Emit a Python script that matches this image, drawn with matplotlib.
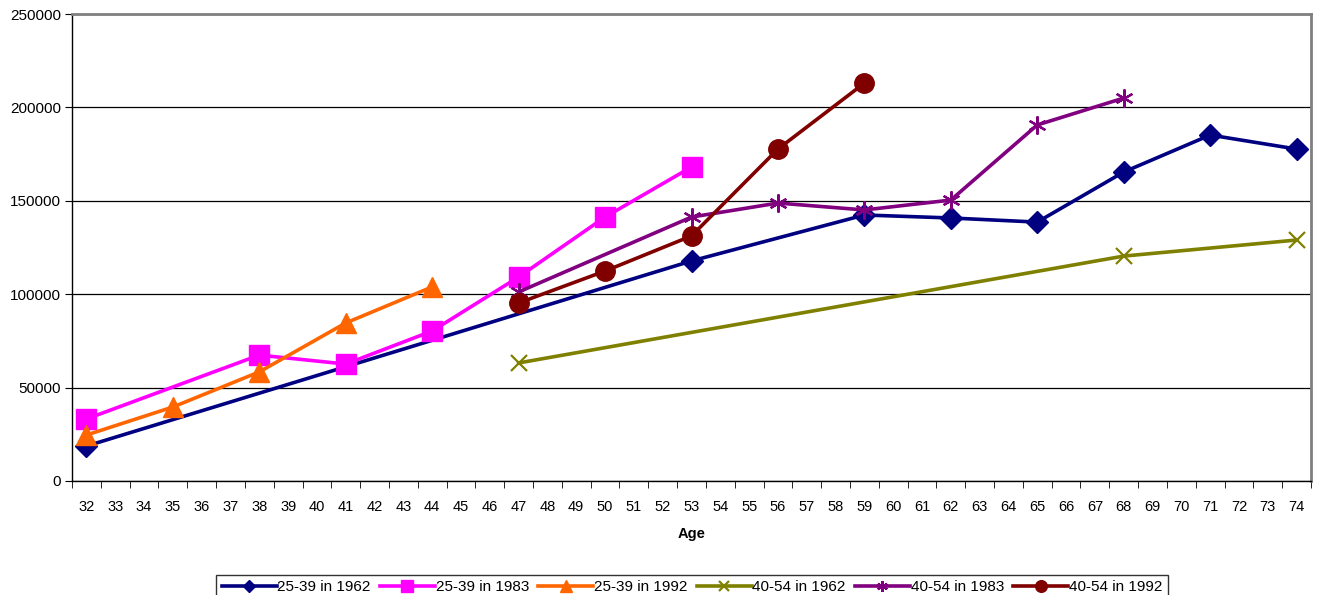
import numpy as np
import matplotlib.pyplot as plt
from matplotlib.ticker import FixedLocator

plt.rcParams["font.family"] = ["Liberation Sans", "DejaVu Sans"]
plt.rcParams["font.size"] = 10

ages = list(range(32, 75))

# each cohort: ages where a value exists, and the values
age_a = [32, 53, 59, 62, 65, 68, 71, 74]
val_a = [18700, 117800, 142400, 140800, 138600, 165400, 185200, 177700]

age_b = [32, 38, 41, 44, 47, 50, 53]
val_b = [33200, 67400, 62600, 80300, 109200, 141300, 168100]

age_c = [32, 35, 38, 41, 44]
val_c = [24600, 39600, 58400, 84600, 103900]

age_d = [47, 68, 74]
val_d = [63200, 120400, 129000]

age_e = [47, 53, 56, 59, 62, 65, 68]
val_e = [101200, 141300, 148800, 145100, 150400, 190600, 205000]

age_f = [47, 50, 53, 56, 59]
val_f = [95300, 112400, 131200, 177700, 213000]

series = [
    ("25-39 in 1962", age_a, val_a, "#000080", "D", 11),
    ("25-39 in 1983", age_b, val_b, "#FF00FF", "s", 14),
    ("25-39 in 1992", age_c, val_c, "#FF6600", "^", 14),
    ("40-54 in 1962", age_d, val_d, "#808000", "x", 12),
    ("40-54 in 1983", age_e, val_e, "#800080", (6, 2, 0), 13),
    ("40-54 in 1992", age_f, val_f, "#800000", "o", 14),
]

fig = plt.figure(figsize=(13.21, 5.95), dpi=100)
ax = fig.add_axes([72 / 1321, 1 - 481 / 595, (1311 - 72) / 1321, (481 - 14) / 595])

for name, xs, ys, col, mk, ms in series:
    ax.plot(xs, ys, color=col, linewidth=2.6, marker=mk, markersize=ms,
            markeredgewidth=1.6 if mk in ("x", (6, 2, 0)) else 1,
            markeredgecolor=col, markerfacecolor=col, label=name, zorder=3)

ax.set_xlim(31.5, 74.5)
ax.set_ylim(0, 250000)
ax.set_xticks(ages)
ax.set_xticklabels([str(a) for a in ages], fontsize=10.5)
ax.xaxis.set_minor_locator(FixedLocator(np.arange(31.5, 75, 1)))
ax.tick_params(axis="x", which="major", length=0, pad=14)
ax.tick_params(axis="x", which="minor", length=5, direction="out")
ax.set_yticks(np.arange(0, 250001, 50000))
ax.tick_params(axis="y", length=5, direction="out", pad=3, labelsize=11)

ax.grid(True, axis="y", color="black", linewidth=0.9)
ax.set_axisbelow(True)
for s in ("left", "bottom"):
    ax.spines[s].set_color("black")
    ax.spines[s].set_linewidth(1)
for s in ("top", "right"):
    ax.spines[s].set_color("#808080")
    ax.spines[s].set_linewidth(2)

ax.set_xlabel("Age", fontweight="bold", fontsize=10.5, labelpad=9)

fig.legend(loc="upper center", bbox_to_anchor=(692 / 1321, 1 - 567 / 595), ncol=6,
           fontsize=11, frameon=True, fancybox=False, edgecolor="black",
           handlelength=3.6, handletextpad=0.05, columnspacing=0.6,
           borderpad=0.35, markerscale=0.6)

fig.savefig("out.png", dpi=100)
